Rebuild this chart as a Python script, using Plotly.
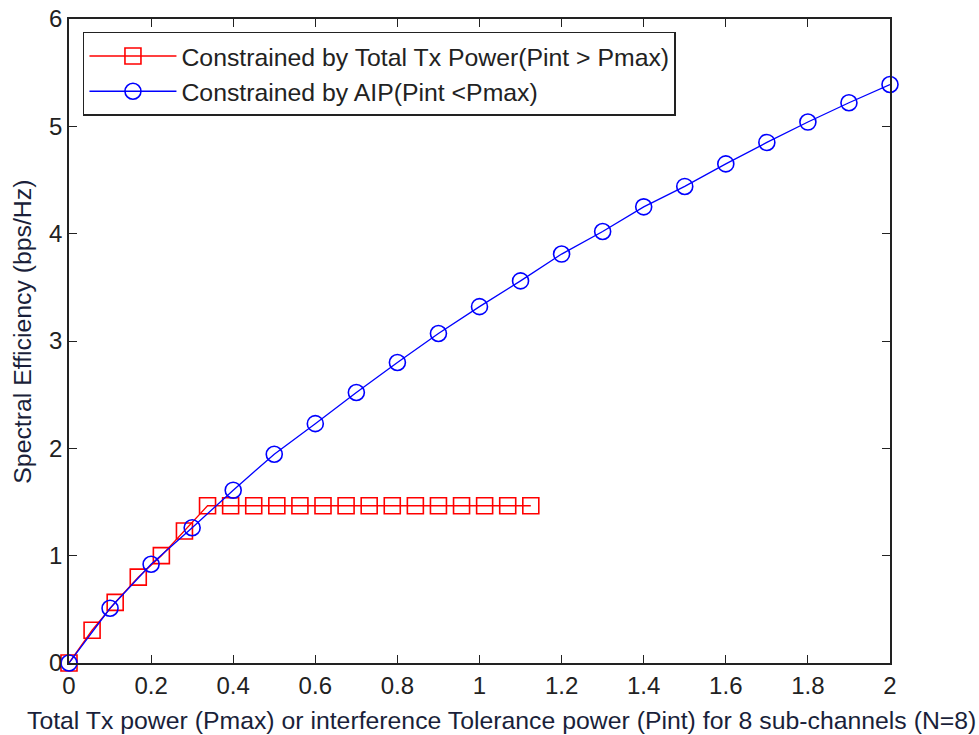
import plotly.graph_objects as go

# Data
red_x = [i * 1.125 / 20 for i in range(21)]
red_y = [0.0, 0.305, 0.565, 0.80, 1.00, 1.23, 1.465,
         1.465, 1.465, 1.465, 1.465, 1.465, 1.465, 1.465,
         1.465, 1.465, 1.465, 1.465, 1.465, 1.465, 1.465]

blue_x = [0.0, 0.1, 0.2, 0.3, 0.4, 0.5, 0.6, 0.7, 0.8, 0.9, 1.0,
          1.1, 1.2, 1.3, 1.4, 1.5, 1.6, 1.7, 1.8, 1.9, 2.0]
blue_y = [0.0, 0.51, 0.92, 1.26, 1.61, 1.945, 2.23, 2.52, 2.80, 3.07, 3.32,
          3.56, 3.81, 4.02, 4.25, 4.44, 4.65, 4.85, 5.04, 5.22, 5.39]

x_ticks = [0, 0.2, 0.4, 0.6, 0.8, 1, 1.2, 1.4, 1.6, 1.8, 2]
x_tick_labels = ["0", "0.2", "0.4", "0.6", "0.8", "1", "1.2", "1.4", "1.6", "1.8", "2"]
y_ticks = [0, 1, 2, 3, 4, 5, 6]

red_name = "Constrained by Total Tx Power(Pint > Pmax)"
blue_name = "Constrained by AIP(Pint <Pmax)"
x_title = "Total Tx power (Pmax) or interference Tolerance power (Pint) for 8 sub-channels (N=8)"
y_title = "Spectral Efficiency (bps/Hz)"

FONT = "Liberation Sans, Arial, sans-serif"
W, H = 979, 735
ML, MR, MT, MB = 68.5, 89, 19, 72.3
PW, PH = W - ML - MR, H - MT - MB

fig = go.Figure()
fig.add_trace(go.Scatter(
    x=red_x, y=red_y, mode="lines+markers", name=red_name,
    line=dict(color="#ff0000", width=1.3),
    marker=dict(symbol="square-open", size=16, color="#ff0000", line=dict(width=1.6, color="#ff0000")),
    cliponaxis=False,
))
fig.add_trace(go.Scatter(
    x=blue_x, y=blue_y, mode="lines+markers", name=blue_name,
    line=dict(color="#0000ff", width=1.3),
    marker=dict(symbol="circle-open", size=16, color="#0000ff", line=dict(width=1.6, color="#0000ff")),
    cliponaxis=False,
))

axis_common = dict(
    showline=True, linecolor="#222222", linewidth=1.5, mirror="ticks",
    ticks="inside", ticklen=8, tickwidth=1.2, tickcolor="#222222",
    showgrid=False, zeroline=False, automargin=False,
    tickfont=dict(family=FONT, size=24, color="#222222"),
)

fig.update_layout(
    width=W, height=H,
    margin=dict(l=ML, r=MR, t=MT, b=MB),
    paper_bgcolor="white", plot_bgcolor="white",
    font=dict(family=FONT, size=24, color="#222222"),
    xaxis=dict(range=[0, 2], tickvals=x_ticks, ticktext=x_tick_labels, **axis_common),
    yaxis=dict(range=[0, 6], tickvals=y_ticks, **axis_common),
    legend=dict(x=0.017, y=0.98, xanchor="left", yanchor="top",
                bgcolor="white", bordercolor="#222222", borderwidth=1.5,
                font=dict(family=FONT, size=24.8, color="#222222"),
                itemwidth=87, tracegroupgap=4),
    showlegend=True,
    annotations=[
        dict(text=x_title, xref="paper", yref="paper",
             x=(501 - ML) / PW, y=-(720 - MT - PH) / PH,
             xanchor="center", yanchor="middle", showarrow=False,
             font=dict(family=FONT, size=24.8, color="#1a1f3a")),
        dict(text=y_title, xref="paper", yref="paper",
             x=-(ML - 22) / PW, y=1 - (332 - MT) / PH, textangle=-90,
             xanchor="center", yanchor="middle", showarrow=False,
             font=dict(family=FONT, size=24.8, color="#1a1f3a")),
    ],
)

fig.write_html("out.html")
